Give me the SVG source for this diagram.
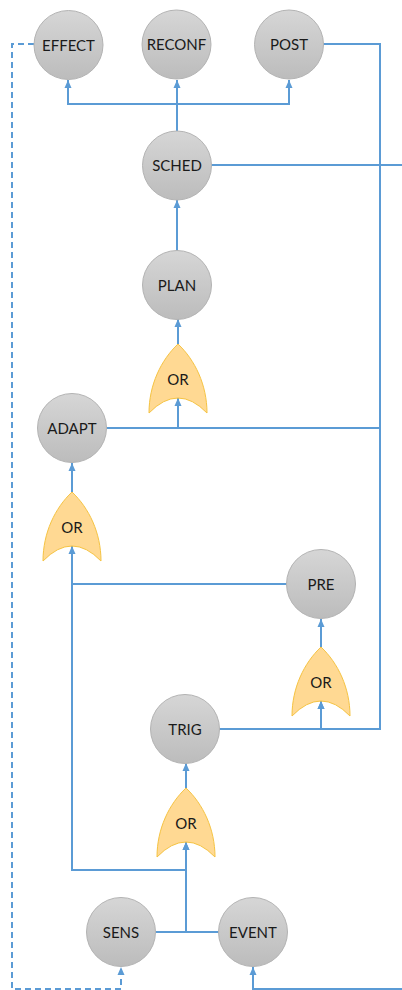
<svg xmlns="http://www.w3.org/2000/svg" width="402" height="990" viewBox="0 0 402 990">
<style>
.n circle{fill:url(#cg);stroke:#b3b3b3;stroke-width:1}
.g path{fill:#ffd993;stroke:#f5c342;stroke-width:1}
text{font-family:Lato,"Open Sans","Liberation Sans",sans-serif;font-size:15px;fill:#1a1a1a;text-anchor:middle}
.c path{fill:none;stroke:#5b9bd5;stroke-width:2}
.c .d{stroke-dasharray:6,4}
</style>
<defs>
<linearGradient id="cg" x1="0" y1="0" x2="0" y2="1">
<stop offset="0" stop-color="#d6d6d6"/>
<stop offset="1" stop-color="#bcbcbc"/>
</linearGradient>
<marker id="a" markerWidth="8" markerHeight="8" refX="8" refY="4" orient="auto" markerUnits="userSpaceOnUse">
<path d="M0,0.5 L8,4 L0,7.5 Z" fill="#5b9bd5"/>
</marker>
<path id="gate" d="M0,0 C17,16 29,41 29,69 Q0,39 -29,69 C-29,41 -17,16 0,0 Z"/>
</defs>
<g class="c">
<path d="M177,131 V104 H68 V80" marker-end="url(#a)"/>
<path d="M177,131 V80" marker-end="url(#a)"/>
<path d="M177,104 H289 V80" marker-end="url(#a)"/>
<path d="M323,44 H380 V729 H321 V701" marker-end="url(#a)"/>
<path d="M380,428 H178"/>
<path d="M211,165 H404"/>
<path d="M404,989 H253 V967" marker-end="url(#a)"/>
<path d="M177,251 V200" marker-end="url(#a)"/>
<path d="M178,344 V319" marker-end="url(#a)"/>
<path d="M107,428 H178 V398" marker-end="url(#a)"/>
<path d="M72,492 V463" marker-end="url(#a)"/>
<path d="M287,584 H72 V546" marker-end="url(#a)"/>
<path d="M72,584 V870 H186 V842" marker-end="url(#a)"/>
<path d="M156,932 H186 V842" marker-end="url(#a)"/>
<path d="M219,932 H186"/>
<path d="M219,729 H321 V701" marker-end="url(#a)"/>
<path d="M186,788 V763" marker-end="url(#a)"/>
<path d="M321,647 V619" marker-end="url(#a)"/>
<path class="d" d="M34,44 H12 V989 H121 V967" marker-end="url(#a)"/>
</g>
<g id="effect" class="n"><circle cx="68.5" cy="45" r="34.5"/><text x="68.5" y="50.5">EFFECT</text></g>
<g id="reconf" class="n"><circle cx="176.5" cy="44.5" r="34.5"/><text x="176.5" y="50">RECONF</text></g>
<g id="post" class="n"><circle cx="289" cy="44.5" r="34.5"/><text x="289" y="50">POST</text></g>
<g id="sched" class="n"><circle cx="177" cy="165.5" r="34.5"/><text x="177" y="171">SCHED</text></g>
<g id="plan" class="n"><circle cx="177" cy="285" r="34.5"/><text x="177" y="290.5">PLAN</text></g>
<g id="or1" class="g"><use href="#gate" x="178" y="344" fill="#ffd993" stroke="#f5c342"/><text x="178" y="384.5">OR</text></g>
<g id="adapt" class="n"><circle cx="72" cy="428" r="34.5"/><text x="72" y="433.5">ADAPT</text></g>
<g id="or2" class="g"><use href="#gate" x="72" y="492" fill="#ffd993" stroke="#f5c342"/><text x="72" y="532.5">OR</text></g>
<g id="pre" class="n"><circle cx="321" cy="584" r="34.5"/><text x="321" y="589.5">PRE</text></g>
<g id="or3" class="g"><use href="#gate" x="321" y="647" fill="#ffd993" stroke="#f5c342"/><text x="321" y="687.5">OR</text></g>
<g id="trig" class="n"><circle cx="185" cy="729" r="34.5"/><text x="185" y="734.5">TRIG</text></g>
<g id="or4" class="g"><use href="#gate" x="186" y="788" fill="#ffd993" stroke="#f5c342"/><text x="186" y="828.5">OR</text></g>
<g id="sens" class="n"><circle cx="121" cy="932" r="34.5"/><text x="121" y="937.5">SENS</text></g>
<g id="event" class="n"><circle cx="253" cy="932" r="34.5"/><text x="253" y="937.5">EVENT</text></g>
</svg>
